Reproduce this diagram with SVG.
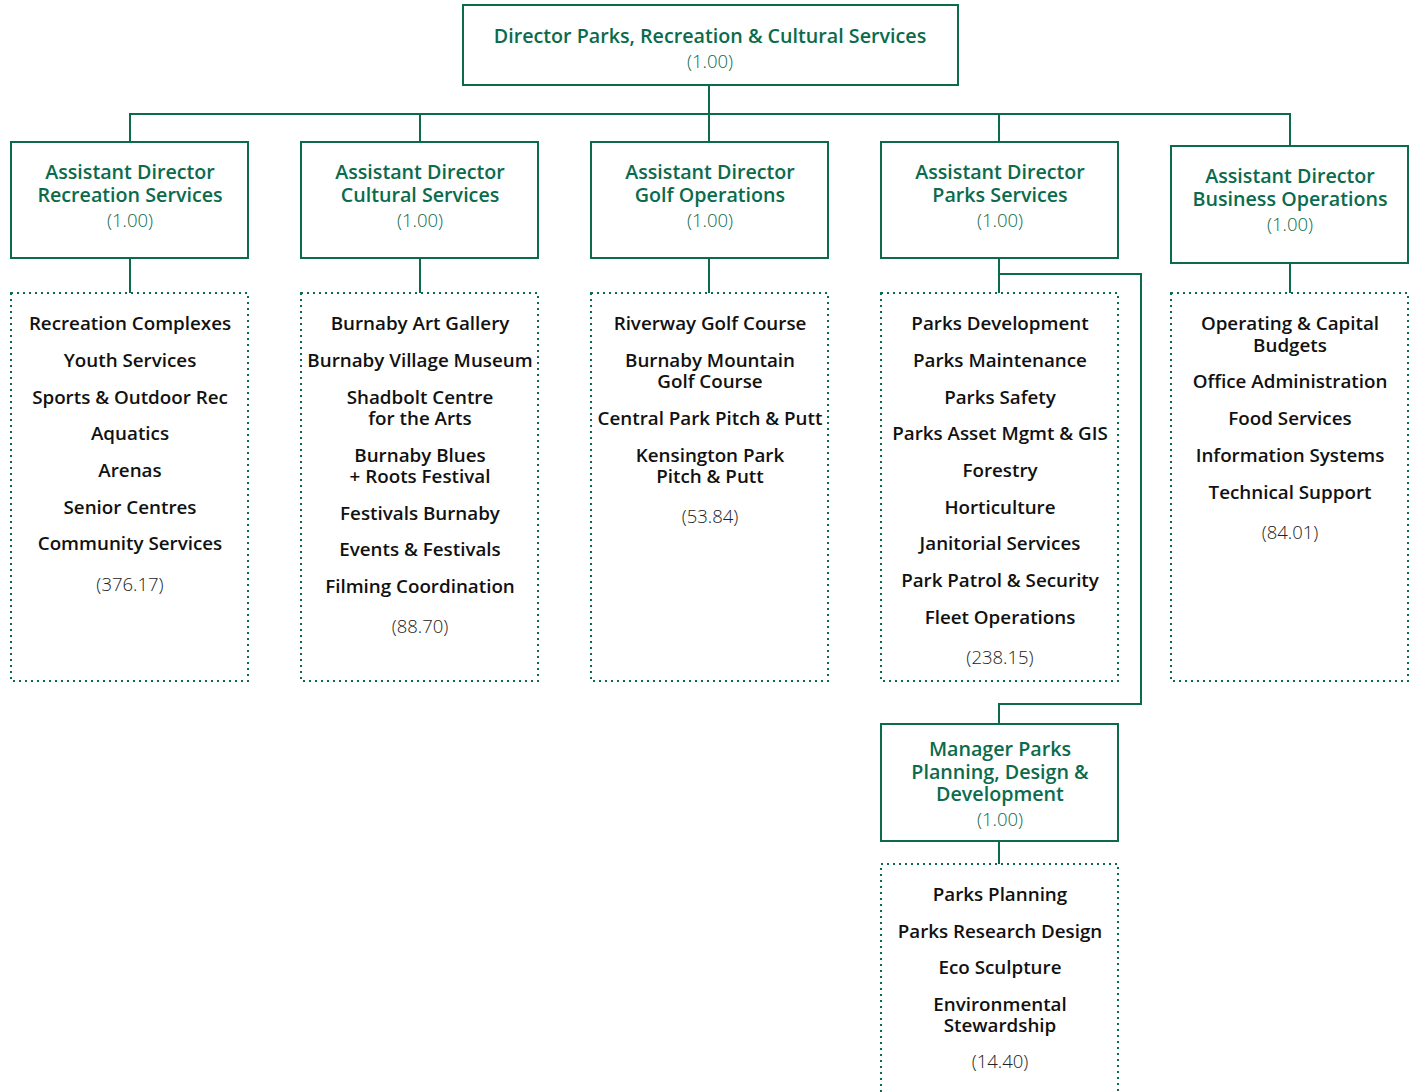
<svg xmlns="http://www.w3.org/2000/svg" width="1413" height="1092" viewBox="0 0 1413 1092">
  <style>
    .box { fill: #ffffff; stroke: #0b6b4c; stroke-width: 2; }
    .dot { fill: none; stroke: #0b6b4c; stroke-width: 2; stroke-dasharray: 2 4; }
    .wire { fill: none; stroke: #0b6b4c; stroke-width: 2; }
    text { font-family: "Open Sans", "Liberation Sans", sans-serif; text-anchor: middle; }
    .hd { fill: #0b6b4c; font-size: 19.7px; font-weight: 600; }
    .num { fill: #0b6b4c; font-size: 18.5px; font-weight: 300; }
    .it { fill: #111111; font-size: 18.8px; font-weight: 600; }
    .fte { fill: #222222; font-size: 18.5px; font-weight: 300; }
  </style>

  <!-- connectors -->
  <g id="connectors">
    <path class="wire" d="M709 85 V114 M130 142 V114 H1290 V146 M420 114 V142 M709 114 V142 M999 114 V142"/>
    <path class="wire" d="M130 258 V293 M420 258 V293 M709 258 V293 M999 258 V293 M1290 263 V293"/>
    <path class="wire" d="M999 274 H1141 V704 H999 V724"/>
    <path class="wire" d="M999 841 V864"/>
  </g>

  <!-- director -->
  <g id="director">
    <rect class="box" x="463" y="5" width="495" height="80"/>
    <text class="hd" x="710" y="43">Director Parks, Recreation &amp; Cultural Services</text>
    <text class="num" x="710" y="68">(1.00)</text>
  </g>

  <!-- recreation -->
  <g id="ad-recreation">
    <rect class="box" x="11" y="142" width="237" height="116"/>
    <text class="hd" x="130" y="179">Assistant Director<tspan x="130" dy="23">Recreation Services</tspan></text>
    <text class="num" x="130" y="227">(1.00)</text>
  </g>
  <g id="recreation-units">
    <rect class="dot" x="11" y="293" width="237" height="388"/>
    <text class="it" x="130" y="330">Recreation Complexes</text>
    <text class="it" x="130" y="367">Youth Services</text>
    <text class="it" x="130" y="404">Sports &amp; Outdoor Rec</text>
    <text class="it" x="130" y="440">Aquatics</text>
    <text class="it" x="130" y="477">Arenas</text>
    <text class="it" x="130" y="514">Senior Centres</text>
    <text class="it" x="130" y="550">Community Services</text>
    <text class="fte" x="130" y="591">(376.17)</text>
  </g>

  <!-- cultural -->
  <g id="ad-cultural">
    <rect class="box" x="301" y="142" width="237" height="116"/>
    <text class="hd" x="420" y="179">Assistant Director<tspan x="420" dy="23">Cultural Services</tspan></text>
    <text class="num" x="420" y="227">(1.00)</text>
  </g>
  <g id="cultural-units">
    <rect class="dot" x="301" y="293" width="237" height="388"/>
    <text class="it" x="420" y="330">Burnaby Art Gallery</text>
    <text class="it" x="420" y="367">Burnaby Village Museum</text>
    <text class="it" x="420" y="404">Shadbolt Centre<tspan x="420" dy="21">for the Arts</tspan></text>
    <text class="it" x="420" y="462">Burnaby Blues<tspan x="420" dy="21">+ Roots Festival</tspan></text>
    <text class="it" x="420" y="520">Festivals Burnaby</text>
    <text class="it" x="420" y="556">Events &amp; Festivals</text>
    <text class="it" x="420" y="593">Filming Coordination</text>
    <text class="fte" x="420" y="633">(88.70)</text>
  </g>

  <!-- golf -->
  <g id="ad-golf">
    <rect class="box" x="591" y="142" width="237" height="116"/>
    <text class="hd" x="710" y="179">Assistant Director<tspan x="710" dy="23">Golf Operations</tspan></text>
    <text class="num" x="710" y="227">(1.00)</text>
  </g>
  <g id="golf-units">
    <rect class="dot" x="591" y="293" width="237" height="388"/>
    <text class="it" x="710" y="330">Riverway Golf Course</text>
    <text class="it" x="710" y="367">Burnaby Mountain<tspan x="710" dy="21">Golf Course</tspan></text>
    <text class="it" x="710" y="425">Central Park Pitch &amp; Putt</text>
    <text class="it" x="710" y="462">Kensington Park<tspan x="710" dy="21">Pitch &amp; Putt</tspan></text>
    <text class="fte" x="710" y="523">(53.84)</text>
  </g>

  <!-- parks -->
  <g id="ad-parks">
    <rect class="box" x="881" y="142" width="237" height="116"/>
    <text class="hd" x="1000" y="179">Assistant Director<tspan x="1000" dy="23">Parks Services</tspan></text>
    <text class="num" x="1000" y="227">(1.00)</text>
  </g>
  <g id="parks-units">
    <rect class="dot" x="881" y="293" width="237" height="388"/>
    <text class="it" x="1000" y="330">Parks Development</text>
    <text class="it" x="1000" y="367">Parks Maintenance</text>
    <text class="it" x="1000" y="404">Parks Safety</text>
    <text class="it" x="1000" y="440">Parks Asset Mgmt &amp; GIS</text>
    <text class="it" x="1000" y="477">Forestry</text>
    <text class="it" x="1000" y="514">Horticulture</text>
    <text class="it" x="1000" y="550">Janitorial Services</text>
    <text class="it" x="1000" y="587">Park Patrol &amp; Security</text>
    <text class="it" x="1000" y="624">Fleet Operations</text>
    <text class="fte" x="1000" y="664">(238.15)</text>
  </g>

  <!-- business -->
  <g id="ad-business">
    <rect class="box" x="1171" y="146" width="237" height="117"/>
    <text class="hd" x="1290" y="183">Assistant Director<tspan x="1290" dy="23">Business Operations</tspan></text>
    <text class="num" x="1290" y="231">(1.00)</text>
  </g>
  <g id="business-units">
    <rect class="dot" x="1171" y="293" width="237" height="388"/>
    <text class="it" x="1290" y="330">Operating &amp; Capital<tspan x="1290" dy="22">Budgets</tspan></text>
    <text class="it" x="1290" y="388">Office Administration</text>
    <text class="it" x="1290" y="425">Food Services</text>
    <text class="it" x="1290" y="462">Information Systems</text>
    <text class="it" x="1290" y="499">Technical Support</text>
    <text class="fte" x="1290" y="539">(84.01)</text>
  </g>

  <!-- manager parks planning -->
  <g id="mgr-planning">
    <rect class="box" x="881" y="724" width="237" height="117"/>
    <text class="hd" x="1000" y="756">Manager Parks<tspan x="1000" dy="23">Planning, Design &amp;</tspan><tspan x="1000" dy="22">Development</tspan></text>
    <text class="num" x="1000" y="826">(1.00)</text>
  </g>
  <g id="planning-units">
    <path class="dot" d="M881 1092 V864 H1118 V1092"/>
    <text class="it" x="1000" y="901">Parks Planning</text>
    <text class="it" x="1000" y="938">Parks Research Design</text>
    <text class="it" x="1000" y="974">Eco Sculpture</text>
    <text class="it" x="1000" y="1011">Environmental<tspan x="1000" dy="21">Stewardship</tspan></text>
    <text class="fte" x="1000" y="1068">(14.40)</text>
  </g>
</svg>
